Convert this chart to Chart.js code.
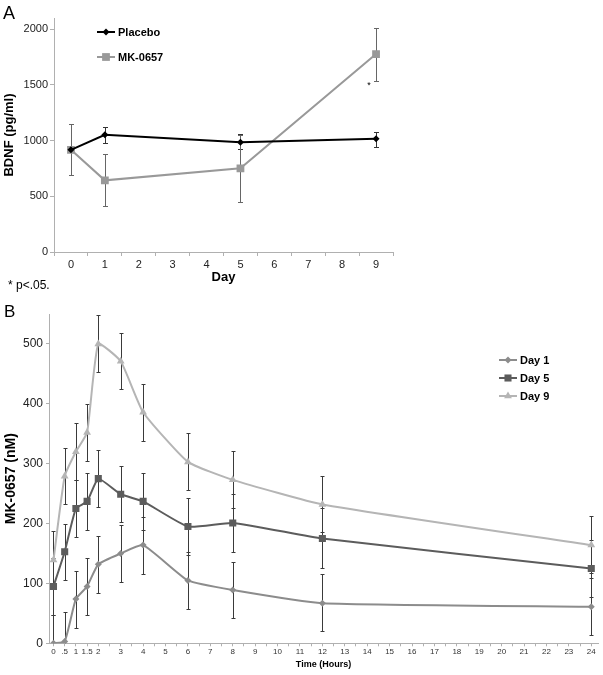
<!DOCTYPE html>
<html><head><meta charset="utf-8">
<script src="https://cdn.jsdelivr.net/npm/chart.js@4/dist/chart.umd.min.js"></script>
<style>
html,body{margin:0;padding:0;background:#fff;}
#wrap{position:relative;width:603px;height:675px;font-family:"Liberation Sans",Arial,sans-serif;color:#000;}
canvas{position:absolute;left:0;}
#ca{top:0;}
#cb{top:300px;}
.t{position:absolute;white-space:nowrap;line-height:1;}
</style></head>
<body>
<div id="wrap">
<canvas id="ca" width="603" height="300"></canvas>
<canvas id="cb" width="603" height="375"></canvas>
<div class="t" style="left:3px;top:4px;font-size:18px;">A</div>
<div class="t" style="left:4px;top:303px;font-size:17px;">B</div>
<div class="t" style="left:8px;top:279px;font-size:12px;">* p&lt;.05.</div>
</div>
<script>
// ---------- Panel A data ----------
const DAY_LABELS = ['0','1','2','3','4','5','6','7','8','9'];
const SAMPLE_DAYS = ['0','1','5','9'];
const PLACEBO = [917, 1052, 984, 1016];
const PLACEBO_HI = [917, 1118, 1056, 1079];
const PLACEBO_LO = [917, 980, 921, 944];
const MK0657 = [917, 643, 751, 1776];
const MK0657_HI = [1150, 876, 1054, 2009];
const MK0657_LO = [688, 410, 448, 1537];
const A_Y_TICKS = [0, 500, 1000, 1500, 2000];

// ---------- Panel B data ----------
const HOURS = [0, 0.5, 1, 1.5, 2, 3, 4, 6, 8, 12, 24];
const DAY1 = [0, 3, 74, 95, 132, 150, 164, 105, 89, 67, 61];
const DAY1_HI = [47, 52, 121, 142, 179, 197, 211, 152, 136, 116, 109];
const DAY1_LO = [-47, -46, 26, 47, 84, 102, 115, 57, 42, 21, 14];
const DAY5 = [95, 153, 225, 237, 275, 249, 237, 195, 201, 175, 125];
const DAY5_HI = [142, 200, 273, 284, 323, 296, 284, 242, 249, 226, 173];
const DAY5_LO = [48, 105, 177, 189, 228, 202, 189, 148, 153, 125, 77];
const DAY9 = [139, 279, 320, 352, 500, 471, 386, 303, 273, 232, 164];
const DAY9_HI = [187, 327, 368, 400, 548, 518, 433, 351, 321, 280, 212];
const DAY9_LO = [91, 232, 273, 305, 453, 424, 338, 256, 226, 186, 117];
const B_X_TICKS = [0,0.5,1,1.5,2,2.5,3,3.5,4,4.5,5,5.5,6,6.5,7,7.5,8,8.5,9,9.5,10,10.5,11,11.5,12,12.5,13,13.5,14,14.5,15,15.5,16,16.5,17,17.5,18,18.5,19,19.5,20,20.5,21,21.5,22,22.5,23,23.5,24];
const B_X_LABELED = [0,0.5,1,1.5,2,3,4,5,6,7,8,9,10,11,12,13,14,15,16,17,18,19,20,21,22,23,24];
const B_Y_TICKS = [0, 100, 200, 300, 400, 500];

Chart.defaults.font.family = '"Liberation Sans", Arial, Helvetica, sans-serif';
Chart.defaults.color = '#222';

function drawMarker(ctx, style, x, y, r, color) {
  ctx.save();
  ctx.fillStyle = color;
  ctx.beginPath();
  if (style === 'rect') {
    const s = Math.SQRT1_2 * r;
    ctx.rect(x - s, y - s, 2 * s, 2 * s);
  } else if (style === 'rectRot') {
    ctx.moveTo(x, y - r); ctx.lineTo(x + r, y); ctx.lineTo(x, y + r); ctx.lineTo(x - r, y); ctx.closePath();
  } else if (style === 'triangle') {
    ctx.moveTo(x, y - r); ctx.lineTo(x + r * 0.866, y + r * 0.5); ctx.lineTo(x - r * 0.866, y + r * 0.5); ctx.closePath();
  } else {
    ctx.arc(x, y, r, 0, Math.PI * 2);
  }
  ctx.fill();
  ctx.restore();
}

const errorBars = {
  id: 'errorBars',
  beforeDatasetsDraw(chart, args, opts) {
    const ctx = chart.ctx, ys = chart.scales.y, a = chart.chartArea;
    ctx.save();
    ctx.beginPath();
    ctx.rect(a.left, a.top - 3, a.right - a.left, a.bottom - a.top + 3);
    ctx.clip();
    chart.data.datasets.forEach((ds, di) => {
      if (!ds.errHi) return;
      const meta = chart.getDatasetMeta(di);
      ctx.strokeStyle = ds.errColor;
      ctx.lineWidth = 1;
      const cw = opts.cap;
      meta.data.forEach((pt, i) => {
        const hi = Math.round(ys.getPixelForValue(ds.errHi[i])) + 0.5;
        const lo = Math.round(ys.getPixelForValue(ds.errLo[i])) + 0.5;
        if (ds.errHi[i] === ds.errLo[i]) return;
        const x = Math.round(pt.x) + 0.5;
        ctx.beginPath();
        ctx.moveTo(x, hi); ctx.lineTo(x, lo);
        ctx.moveTo(x - cw, hi); ctx.lineTo(x + cw, hi);
        ctx.moveTo(x - cw, lo); ctx.lineTo(x + cw, lo);
        ctx.stroke();
      });
    });
    ctx.restore();
  }
};

const customLegend = {
  id: 'customLegend',
  afterDraw(chart, args, opts) {
    const ctx = chart.ctx;
    ctx.save();
    chart.data.datasets.forEach((ds, i) => {
      const y = opts.y0 + i * opts.dy;
      ctx.strokeStyle = ds.borderColor;
      ctx.lineWidth = 2;
      ctx.beginPath();
      ctx.moveTo(opts.x0, y); ctx.lineTo(opts.x1, y);
      ctx.stroke();
      drawMarker(ctx, ds.pointStyle, (opts.x0 + opts.x1) / 2, y, ds.pointRadius, ds.pointBackgroundColor);
      ctx.fillStyle = '#000';
      ctx.font = 'bold ' + opts.size + 'px "Liberation Sans", Arial, sans-serif';
      ctx.textBaseline = 'middle';
      ctx.textAlign = 'left';
      ctx.fillText(ds.label, opts.x1 + 3, y + 0.5);
    });
    ctx.restore();
  }
};

const sigMark = {
  id: 'sigMark',
  afterDatasetsDraw(chart, args, opts) {
    if (!opts.show) return;
    const ctx = chart.ctx;
    const meta = chart.getDatasetMeta(opts.dataset);
    const pt = meta.data[opts.index];
    const y = chart.scales.y.getPixelForValue(opts.value);
    ctx.save();
    ctx.fillStyle = '#000';
    ctx.font = '9px "Liberation Sans", Arial, sans-serif';
    ctx.textAlign = 'center';
    ctx.textBaseline = 'top';
    ctx.fillText('*', pt.x - 7, y + 0.5);
    ctx.restore();
  }
};

// ---------- Chart A ----------
new Chart(document.getElementById('ca'), {
  type: 'line',
  data: {
    labels: DAY_LABELS,
    datasets: [
      {
        label: 'Placebo',
        data: SAMPLE_DAYS.map((d, i) => ({x: d, y: PLACEBO[i]})),
        errHi: PLACEBO_HI, errLo: PLACEBO_LO, errColor: '#333',
        borderColor: '#000', backgroundColor: '#000', pointBackgroundColor: '#000', pointBorderColor: '#000',
        borderWidth: 2, pointStyle: 'rectRot', pointRadius: 3.5, pointBorderWidth: 0, tension: 0
      },
      {
        label: 'MK-0657',
        data: SAMPLE_DAYS.map((d, i) => ({x: d, y: MK0657[i]})),
        errHi: MK0657_HI, errLo: MK0657_LO, errColor: '#666',
        borderColor: '#999', backgroundColor: '#999', pointBackgroundColor: '#999', pointBorderColor: '#999',
        borderWidth: 2, pointStyle: 'rect', pointRadius: 5.5, pointBorderWidth: 0, tension: 0
      }
    ]
  },
  options: {
    responsive: false, animation: false, events: [],
    layout: {padding: {left: 0, right: 210, top: 18, bottom: 0}},
    plugins: {
      legend: {display: false}, tooltip: {enabled: false},
      errorBars: {cap: 2.5},
      customLegend: {x0: 97, x1: 115, y0: 32, dy: 25, size: 11},
      sigMark: {show: true, dataset: 1, index: 3, value: MK0657_LO[3]}
    },
    scales: {
      x: {
        type: 'category', offset: true,
        grid: {offset: true, drawOnChartArea: false, tickLength: 4, tickColor: '#b0b0b0'},
        border: {color: '#b0b0b0'},
        ticks: {font: {size: 11}, color: '#222', padding: 2, maxRotation: 0, autoSkip: false},
        title: {display: true, text: 'Day', color: '#000', font: {size: 13, weight: 'bold'}, padding: {top: 0, bottom: 15}},
        afterFit(s) { s.height = 48; }
      },
      y: {
        min: 0, max: 2100,
        afterBuildTicks(s) { s.ticks = A_Y_TICKS.map(v => ({value: v})); },
        grid: {drawOnChartArea: false, tickLength: 4, tickColor: '#b0b0b0'},
        border: {color: '#b0b0b0'},
        ticks: {font: {size: 11}, color: '#222', padding: 2, callback: v => String(v)},
        title: {display: true, text: 'BDNF (pg/ml)', color: '#000', font: {size: 13, weight: 'bold'}, padding: {top: 2, bottom: 0}},
        afterFit(s) { s.width = 54; }
      }
    }
  },
  plugins: [errorBars, customLegend, sigMark]
});

// ---------- Chart B ----------
new Chart(document.getElementById('cb'), {
  type: 'line',
  data: {
    datasets: [
      {
        label: 'Day 1',
        data: HOURS.map((h, i) => ({x: h, y: DAY1[i]})),
        errHi: DAY1_HI, errLo: DAY1_LO, errColor: '#3a3a3a',
        borderColor: '#8c8c8c', pointBackgroundColor: '#8c8c8c', pointBorderColor: '#8c8c8c',
        borderWidth: 2, pointStyle: 'rectRot', pointRadius: 3.5, pointBorderWidth: 0, tension: 0.15
      },
      {
        label: 'Day 5',
        data: HOURS.map((h, i) => ({x: h, y: DAY5[i]})),
        errHi: DAY5_HI, errLo: DAY5_LO, errColor: '#3a3a3a',
        borderColor: '#5c5c5c', pointBackgroundColor: '#5c5c5c', pointBorderColor: '#5c5c5c',
        borderWidth: 2, pointStyle: 'rect', pointRadius: 5, pointBorderWidth: 0, tension: 0.15
      },
      {
        label: 'Day 9',
        data: HOURS.map((h, i) => ({x: h, y: DAY9[i]})),
        errHi: DAY9_HI, errLo: DAY9_LO, errColor: '#3a3a3a',
        borderColor: '#b5b5b5', pointBackgroundColor: '#b5b5b5', pointBorderColor: '#b5b5b5',
        borderWidth: 2, pointStyle: 'triangle', pointRadius: 4.5, pointBorderWidth: 0, tension: 0.15
      }
    ]
  },
  options: {
    responsive: false, animation: false, events: [],
    layout: {padding: {left: 0, right: 5, top: 14, bottom: 0}},
    plugins: {
      legend: {display: false}, tooltip: {enabled: false},
      errorBars: {cap: 2},
      customLegend: {x0: 499, x1: 517, y0: 60, dy: 18, size: 11},
      sigMark: {show: false}
    },
    scales: {
      x: {
        type: 'linear', min: -0.2, max: 24.3,
        afterBuildTicks(s) { s.ticks = B_X_TICKS.map(v => ({value: v})); },
        grid: {drawOnChartArea: false, tickLength: 3, tickColor: '#b0b0b0'},
        border: {color: '#b0b0b0'},
        ticks: {
          font: {size: 8}, color: '#333', padding: 1, maxRotation: 0, autoSkip: false,
          callback(v) {
            if (!B_X_LABELED.includes(v)) return '';
            return v === 0.5 ? '.5' : String(v);
          }
        },
        title: {display: true, text: 'Time (Hours)', color: '#000', font: {size: 9, weight: 'bold'}, padding: {top: 0, bottom: 5}},
        afterFit(s) { s.height = 31.7; }
      },
      y: {
        min: 0, max: 550,
        afterBuildTicks(s) { s.ticks = B_Y_TICKS.map(v => ({value: v})); },
        grid: {drawOnChartArea: false, tickLength: 3, tickColor: '#b0b0b0'},
        border: {color: '#b0b0b0'},
        ticks: {font: {size: 12}, color: '#222', padding: 3, callback: v => String(v)},
        title: {display: true, text: 'MK-0657 (nM)', color: '#000', font: {size: 14, weight: 'bold'}, padding: {top: 3, bottom: 0}},
        afterFit(s) { s.width = 49; }
      }
    }
  },
  plugins: [errorBars, customLegend, sigMark]
});
</script>
</body></html>
